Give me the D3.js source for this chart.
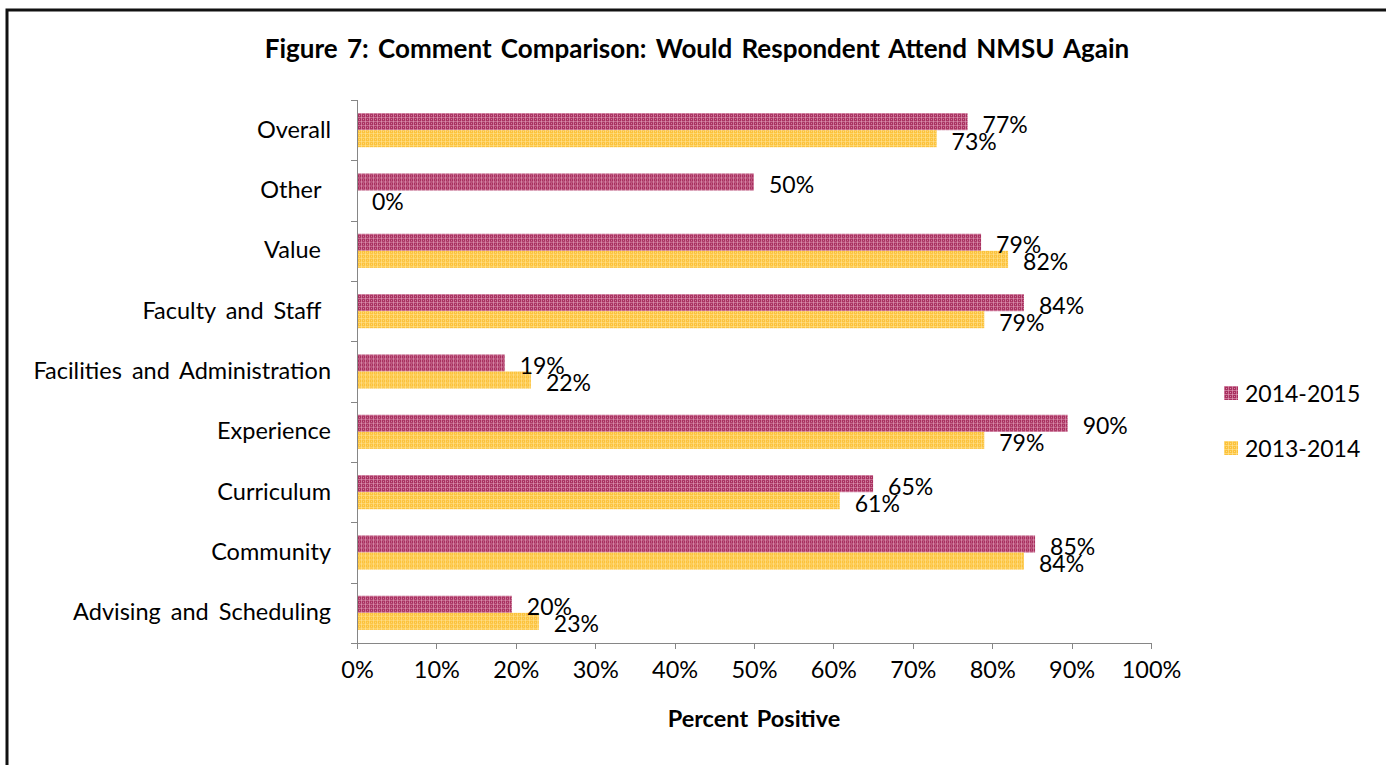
<!DOCTYPE html>
<html>
  <head>
    <meta charset="utf-8">
    <style>
    body {margin:0; background:white;}
    * { font-family: "Lato", "Carlito", sans-serif; }
    text { word-spacing: 3px; }
    .axis path, .axis line { stroke: #868686; shape-rendering: crispEdges; }
    .axis text { fill: #000; font-size: 23.5px; }
    </style>
  </head>
  <body>
    <div id="chart"></div>
    <script src="https://d3js.org/d3.v7.min.js"></script>
<script>

  // data
  var categories = ["Overall", "Other ", "Value ", "Faculty and Staff ", "Facilities and Administration",
                    "Experience", "Curriculum", "Community", "Advising and Scheduling"];
  var seriesNames = ["2014-2015", "2013-2014"];
  var values2014 = [76.9, 50.0, 78.6, 84.0, 18.6, 89.5, 65.0, 85.4, 19.5];
  var values2013 = [73.0, 0.0, 82.0, 79.0, 21.9, 79.0, 60.8, 84.0, 22.9];
  var xTicks = [0, 10, 20, 30, 40, 50, 60, 70, 80, 90, 100];

  var W = 1386, H = 765;
  var margin = { top: 100, left: 357, right: 235, bottom: 122 };
  var width = W - margin.left - margin.right,
      height = H - margin.top - margin.bottom;

  var svg = d3.select("#chart")
    .append("svg")
    .attr("width", W)
    .attr("height", H);

  // outer frame (right and bottom edges run off the picture)
  svg.append("rect")
    .attr("x", 7).attr("y", 10)
    .attr("width", W + 20).attr("height", H + 20)
    .attr("fill", "white")
    .attr("stroke", "#111")
    .attr("stroke-width", 3);

  // patterns
  var defs = svg.append("defs");
  function makePattern(id, base, light) {
    var p = defs.append("pattern")
      .attr("id", id)
      .attr("width", 4).attr("height", 4)
      .attr("patternUnits", "userSpaceOnUse");
    p.append("rect").attr("width", 4).attr("height", 4).attr("fill", base);
    p.append("rect").attr("width", 4).attr("height", 1).attr("fill", light).attr("opacity", 0.55);
    p.append("rect").attr("width", 1).attr("height", 4).attr("fill", light).attr("opacity", 0.55);
    p.append("rect").attr("x", 2).attr("y", 2).attr("width", 1).attr("height", 1).attr("fill", light).attr("opacity", 0.7);
  }
  makePattern("pat2014", "#a8305f", "#e7a9c3");
  makePattern("pat2013", "#fcc23a", "#fee6a0");

  var colors = { "2014-2015": "url(#pat2014)", "2013-2014": "url(#pat2013)" };

  var g = svg.append("g")
    .attr("transform", "translate(" + margin.left + "," + margin.top + ")");

  var xscale = d3.scaleLinear().domain([0, 100]).range([0, width]);
  var yscale = d3.scaleBand().domain(categories).range([0, height])
    .paddingInner(0.435).paddingOuter(0.2175);
  var sub = d3.scaleBand().domain(seriesNames).range([0, yscale.bandwidth()]);

  var rows = categories.map(function(c, i) {
    return { cat: c, vals: [
      { s: seriesNames[0], v: values2014[i] },
      { s: seriesNames[1], v: values2013[i] } ] };
  });

  // x axis
  var xaxis = d3.axisBottom(xscale)
    .tickValues(xTicks)
    .tickSize(6)
    .tickPadding(12)
    .tickFormat(function(d) { return d + "%"; });

  g.append("g")
    .attr("class", "axis")
    .attr("transform", "translate(0," + height + ")")
    .call(xaxis)
    .call(function(a) { a.select(".domain").attr("d", "M0.5,0.5H" + (width + 0.5)); });

  // y axis: labels at band centres, ticks at band boundaries
  var yaxis = d3.axisLeft(yscale).tickSize(0).tickPadding(26);
  var ya = g.append("g")
    .attr("class", "axis")
    .call(yaxis);
  ya.select(".domain").attr("d", "M0.5,0V" + height);
  ya.selectAll("text").style("white-space", "pre").style("word-spacing", "4px");

  var step = yscale.step();
  ya.selectAll(".bound")
    .data(d3.range(categories.length + 1))
    .enter().append("line")
    .attr("class", "bound")
    .attr("x1", -6).attr("x2", 0)
    .attr("y1", function(i) { return Math.round(i * step) + 0.5; })
    .attr("y2", function(i) { return Math.round(i * step) + 0.5; });

  // bars
  var grp = g.append("g").selectAll(".cat")
    .data(rows)
    .enter().append("g")
    .attr("transform", function(d) { return "translate(0," + yscale(d.cat) + ")"; });

  grp.selectAll("rect")
    .data(function(d) { return d.vals; })
    .enter().append("rect")
    .attr("x", 1)
    .attr("y", function(d) { return sub(d.s); })
    .attr("height", sub.bandwidth())
    .attr("width", function(d) { return Math.max(0, xscale(d.v) - 1); })
    .attr("fill", function(d) { return colors[d.s]; });

  grp.selectAll(".lbl")
    .data(function(d) { return d.vals; })
    .enter().append("text")
    .attr("class", "lbl")
    .attr("x", function(d) { return xscale(d.v) + 15; })
    .attr("y", function(d) { return sub(d.s) + sub.bandwidth() / 2 + 2; })
    .attr("dominant-baseline", "central")
    .style("font-size", "23px")
    .text(function(d) { return Math.round(d.v) + "%"; });

  // title
  svg.append("text")
    .attr("x", 697)
    .attr("y", 58)
    .attr("text-anchor", "middle")
    .style("font-size", "26px")
    .style("font-weight", "bold")
    .style("word-spacing", "3px")
    .text("Figure 7: Comment Comparison: Would Respondent Attend NMSU Again");

  // axis title
  svg.append("text")
    .attr("x", margin.left + width / 2)
    .attr("y", 727)
    .attr("text-anchor", "middle")
    .style("font-size", "23.5px")
    .style("font-weight", "bold")
    .text("Percent Positive");

  // legend
  var legend = svg.append("g").selectAll(".leg")
    .data(seriesNames)
    .enter().append("g")
    .attr("transform", function(d, i) { return "translate(1224," + (386 + i * 55) + ")"; });

  legend.append("rect")
    .attr("width", 14).attr("height", 14)
    .attr("fill", function(d) { return colors[d]; });

  legend.append("text")
    .attr("x", 21)
    .attr("y", 7)
    .attr("dominant-baseline", "central")
    .style("font-size", "23px")
    .text(function(d) { return d; });

</script>
  </body>
</html>
